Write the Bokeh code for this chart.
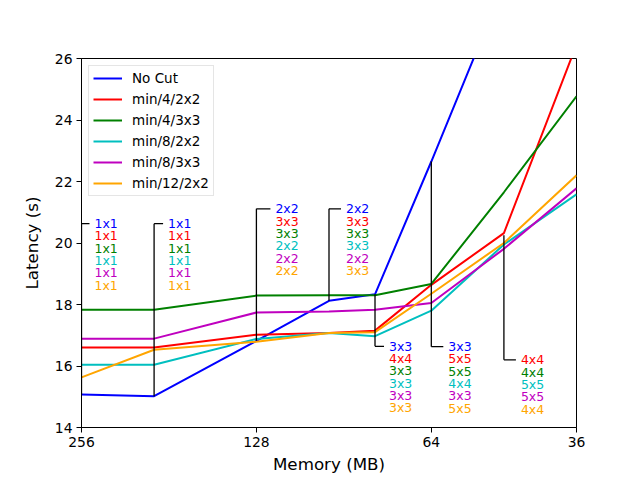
import math
from bokeh.plotting import figure
from bokeh.models import Range1d, FixedTicker, ColumnDataSource
from bokeh.embed import file_html
from bokeh.resources import INLINE
from bokeh.core.properties import value

# ---------------- data ----------------
memory = [256, 192, 128, 96, 80, 64, 48, 36]
series_names = ["No Cut", "min/4/2x2", "min/4/3x3", "min/8/2x2", "min/8/3x3", "min/12/2x2"]
no_cut     = [15.07, 15.02, 16.82, 18.12, 18.33, 22.65, 28.40, 33.00]
min4_2x2   = [16.60, 16.60, 17.02, 17.07, 17.15, 18.64, 20.32, 26.45]
min4_3x3   = [17.83, 17.83, 18.29, 18.30, 18.30, 18.67, 21.65, 24.77]
min8_2x2   = [16.04, 16.04, 16.88, 17.07, 16.97, 17.80, 19.95, 21.58]
min8_3x3   = [16.89, 16.89, 17.74, 17.77, 17.83, 18.05, 19.81, 21.78]
min12_2x2  = [15.63, 16.53, 16.79, 17.07, 17.10, 18.35, 20.00, 22.20]
series_values = [no_cut, min4_2x2, min4_3x3, min8_2x2, min8_3x3, min12_2x2]
colors = ["#0000ff", "#ff0000", "#008000", "#00bfbf", "#bf00bf", "#ffa500"]

x_ticks = [256, 128, 64, 36]
y_ticks = [14, 16, 18, 20, 22, 24, 26]

# annotations: memory, point latency, label latency, label texts per series
ann_memory  = [256, 192, 128, 96, 80, 64, 48]
ann_point_y = [15.07, 15.02, 16.82, 18.12, 18.33, 22.65, 20.25]
ann_label_y = [20.63, 20.63, 21.11, 21.11, 16.64, 16.63, 16.20]
ann_labels = [
    ["1x1", "1x1", "1x1", "1x1", "1x1", "1x1"],
    ["1x1", "1x1", "1x1", "1x1", "1x1", "1x1"],
    ["2x2", "3x3", "3x3", "2x2", "2x2", "2x2"],
    ["2x2", "3x3", "3x3", "3x3", "2x2", "3x3"],
    ["3x3", "4x4", "3x3", "3x3", "3x3", "3x3"],
    ["3x3", "5x5", "5x5", "4x4", "3x3", "5x5"],
    [None, "4x4", "4x4", "5x5", "5x5", "4x4"],
]
label_step = 0.4

# ---------------- styling / layout ----------------
W, H = 640, 480
BL, BR, BT, BB = 81, 64, 58, 53
text_offsets = [13, 14, 19, 17, 14, 17, 17]  # px right of the bracket
FONT = "DejaVu Sans"

p = figure(width=W, height=H, x_axis_type="log",
           x_range=Range1d(256, 36), y_range=Range1d(14, 26),
           output_backend="svg", toolbar_location=None,
           min_border_left=BL, min_border_right=BR,
           min_border_top=BT, min_border_bottom=BB,
           background_fill_color="white", border_fill_color="white")

frame_w = W - BL - BR
px_per_octave = frame_w / math.log2(256 / 36)

def shift(mem, px):
    return mem / 2 ** (px / px_per_octave)

# series lines
for name, vals, c in zip(series_names, series_values, colors):
    p.line(memory, vals, line_color=c, line_width=2, legend_label=name)

# brackets + labels
vx0, vx1, vy0, vy1 = [], [], [], []
hx0, hx1, hy = [], [], []
tx, ty, tt, tc, toff = [], [], [], [], []
for mem, py, ly, labels, off in zip(ann_memory, ann_point_y, ann_label_y, ann_labels, text_offsets):
    vx0.append(mem); vx1.append(mem); vy0.append(py); vy1.append(ly)
    hx0.append(mem); hx1.append(shift(mem, off - 5)); hy.append(ly)
    k = 0
    for lab, c in zip(labels, colors):
        if lab is None:
            continue
        tx.append(mem); ty.append(ly - label_step * k); tt.append(lab); tc.append(c); toff.append(off)
        k += 1

p.segment(x0=vx0, y0=vy0, x1=vx1, y1=vy1, line_color="black", line_width=1.3)
p.segment(x0=hx0, y0=hy, x1=hx1, y1=hy, line_color="black", line_width=1.3)
src = ColumnDataSource(dict(x=tx, y=ty, t=tt, c=tc, o=toff))
p.text(x="x", y="y", text="t", text_color="c", x_offset="o", source=src,
       text_font=value(FONT), text_font_size="12.5px",
       text_baseline="middle", text_align="left")

# axes
p.xaxis.ticker = FixedTicker(ticks=x_ticks)
p.xaxis.major_label_overrides = {t: str(t) for t in x_ticks}
p.yaxis.ticker = FixedTicker(ticks=y_ticks)
p.xaxis.axis_label = "Memory (MB)"
p.yaxis.axis_label = "Latency (s)"
for ax in (p.xaxis, p.yaxis):
    ax.axis_label_text_font = FONT
    ax.axis_label_text_font_size = "16.7px"
    ax.axis_label_text_font_style = "normal"
    ax.axis_label_text_color = "black"
    ax.major_label_text_font = FONT
    ax.major_label_text_font_size = "13.9px"
    ax.major_label_text_color = "black"
    ax.major_tick_out = 5
    ax.major_tick_in = 0
    ax.minor_tick_line_color = None
    ax.axis_line_color = "black"
    ax.major_tick_line_color = "black"
    ax.major_label_standoff = 4
p.yaxis.axis_label_standoff = 10
p.xaxis.axis_label_standoff = 4
p.xgrid.visible = False
p.ygrid.visible = False
p.outline_line_color = "black"
p.outline_line_width = 1
p.outline_line_alpha = 1

lg = p.legend[0]
lg.label_text_font = FONT
lg.label_text_font_size = "13.5px"
lg.label_text_color = "black"
lg.glyph_width = 29
lg.glyph_height = 16
lg.label_height = 16
lg.label_standoff = 10
lg.padding = 4
lg.spacing = 5
lg.margin = 7
lg.location = "top_left"
lg.border_line_color = "#cccccc"
lg.border_line_width = 1
lg.background_fill_alpha = 0.8

open("out.html", "w").write(file_html(p, INLINE))
